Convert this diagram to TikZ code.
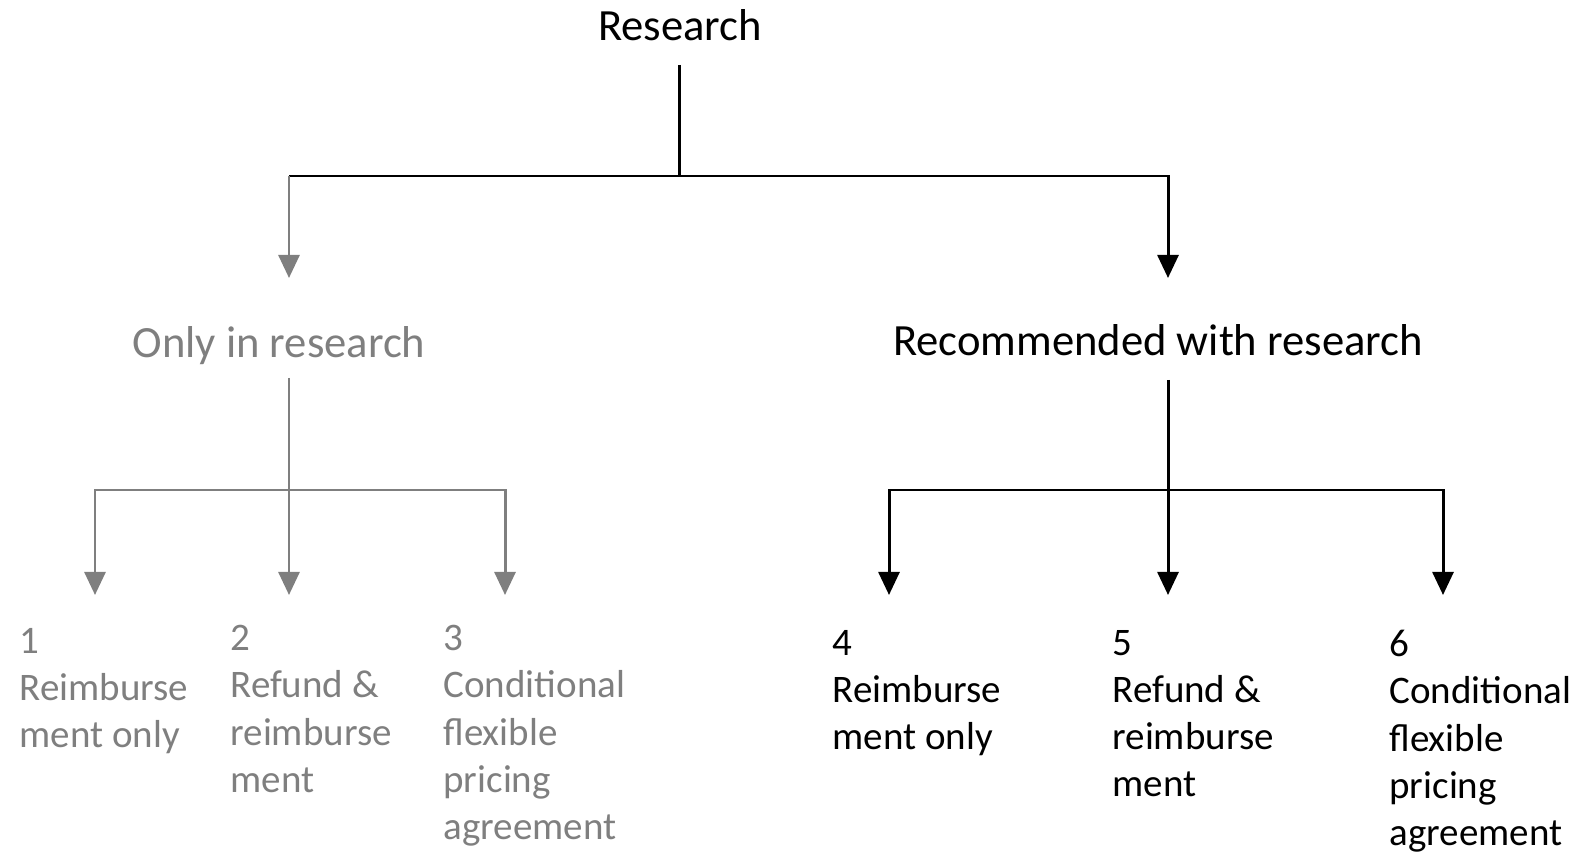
\documentclass[tikz,border=0pt]{standalone}
\usepackage{fontspec}
\setmainfont{Carlito}
\usetikzlibrary{arrows.meta}
\definecolor{dimgray}{RGB}{127,127,127}

\begin{document}
\begin{tikzpicture}[line width=0.85pt, >={Triangle[width=6pt,length=6.6pt]},
    head/.style={font=\fontsize{12.7}{15}\selectfont, inner sep=0pt, anchor=base},
    leaf/.style={font=\fontsize{11.1}{13.4}\selectfont, align=left, inner sep=0pt, anchor=north west},
    faded/.style={color=dimgray}]
    \useasboundingbox (0,0) rectangle (15.76,-8.52);

    \node[head] (res) at (6.80,-0.41) {Research};
    \node[head, faded] (onl) at (2.79,-3.58) {Only in research};
    \node[head] (rec) at (11.58,-3.56) {Recommended with research};

    \node[leaf, faded] (l1) at (0.18,-6.27) {1\\Reimburse\\ment only};
    \node[leaf, faded] (l2) at (2.29,-6.24) {2\\Refund \&\\reimburse\\ment};
    \node[leaf, faded] (l3) at (4.42,-6.24) {3\\Conditional\\flexible\\pricing\\agreement};
    \node[leaf] (l4) at (8.31,-6.29) {4\\Reimburse\\ment only};
    \node[leaf] (l5) at (11.11,-6.29) {5\\Refund \&\\reimburse\\ment};
    \node[leaf] (l6) at (13.88,-6.29) {6\\Conditional\\flexible\\pricing\\agreement};

    % branch points and arrow ends
    \coordinate (s0) at (6.79,-0.65);
    \coordinate (j0) at (6.79,-1.76);
    \coordinate (ta) at (2.89,-2.78);
    \coordinate (tb) at (11.68,-2.78);
    \coordinate (sa) at (2.89,-3.78);
    \coordinate (ja) at (2.89,-4.90);
    \coordinate (sb) at (11.68,-3.80);
    \coordinate (jb) at (11.68,-4.90);
    \coordinate (a1) at (0.95,-5.95);
    \coordinate (a2) at (2.89,-5.95);
    \coordinate (a3) at (5.05,-5.95);
    \coordinate (a4) at (8.89,-5.95);
    \coordinate (a5) at (11.68,-5.95);
    \coordinate (a6) at (14.43,-5.95);

    \draw (s0) -- (j0);
    \draw (j0) -- (j0 -| ta);
    \draw[faded, ->] (j0 -| ta) -- (ta);
    \draw[->] (j0) -| (tb);

    \draw[faded] (sa) -- (ja);
    \draw[faded, ->] (ja) -- (a2);
    \draw[faded, ->] (ja) -| (a1);
    \draw[faded, ->] (ja) -| (a3);

    \draw (sb) -- (jb);
    \draw[->] (jb) -- (a5);
    \draw[->] (jb) -| (a4);
    \draw[->] (jb) -| (a6);
\end{tikzpicture}
\end{document}
